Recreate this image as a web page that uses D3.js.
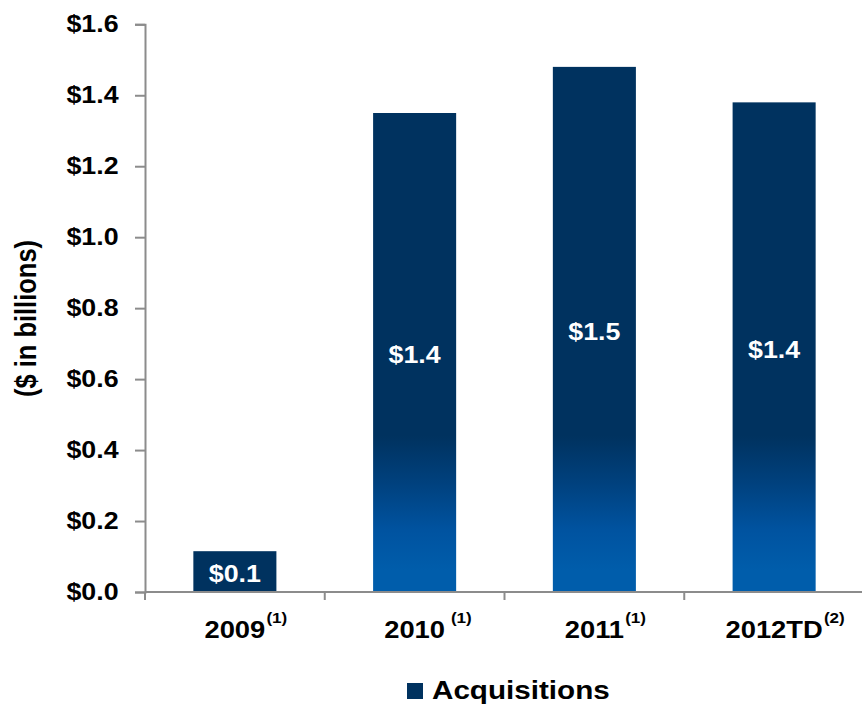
<!DOCTYPE html>
<html>
<head>
<meta charset="utf-8">
<script src="https://cdn.jsdelivr.net/npm/d3@7"></script>
<style>
  html, body { margin: 0; padding: 0; background: #fff; }
  svg { display: block; font-family: "Liberation Sans", Arial, sans-serif; font-weight: bold; }
</style>
</head>
<body>
<svg id="chart" width="862" height="707"></svg>
<script>
// Acquisition volume by year ($ in billions)
const years = ["2009", "2010", "2011", "2012TD"];
const footnotes = ["(1)", " (1)", "(1)", "(2)"];
const acquisitions = [0.115, 1.35, 1.48, 1.38];
const yTicks = [0, 0.2, 0.4, 0.6, 0.8, 1.0, 1.2, 1.4, 1.6];
const seriesName = "Acquisitions";
const axisTitle = "($ in billions)";

const W = 862, H = 707;
const margin = { left: 145, top: 24.3, right: -2, bottom: H - 592 };
const stretch = 1.14;          // horizontal widening of the lettering
const navy = "#00325f", blue = "#005dab", axisGrey = "#8c8c8c";

const svg = d3.select("#chart");

const x = d3.scaleBand()
  .domain(years)
  .range([margin.left, W - margin.right])
  .paddingInner(0.538)
  .paddingOuter(0.269);

const y = d3.scaleLinear()
  .domain([0, 1.6])
  .range([592, margin.top]);

// vertical gradient shared by the tall bars (dark at top, bright blue at the foot)
const defs = svg.append("defs");
const grad = defs.append("linearGradient")
  .attr("id", "barFill")
  .attr("gradientUnits", "userSpaceOnUse")
  .attr("x1", 0).attr("x2", 0)
  .attr("y1", y(0.44)).attr("y2", y(0.06));
grad.append("stop").attr("offset", 0).attr("stop-color", navy);
grad.append("stop").attr("offset", 0.35).attr("stop-color", "#00417e");
grad.append("stop").attr("offset", 0.7).attr("stop-color", "#0053a0");
grad.append("stop").attr("offset", 1).attr("stop-color", blue);

const data = years.map((yr, i) => ({ year: yr, value: acquisitions[i], note: footnotes[i] }));

// bars
svg.append("g").selectAll("rect")
  .data(data)
  .join("rect")
  .attr("x", d => x(d.year))
  .attr("width", x.bandwidth())
  .attr("y", d => y(d.value))
  .attr("height", d => y(0) - y(d.value))
  .attr("fill", d => d.value < 0.5 ? navy : "url(#barFill)");

// y axis
const yAxis = svg.append("g")
  .attr("transform", `translate(${margin.left},0)`)
  .call(d3.axisLeft(y)
    .tickValues(yTicks)
    .tickSize(10)
    .tickPadding(13.2)
    .tickFormat(d3.format("$.1f")));
yAxis.select(".domain").attr("stroke", axisGrey).attr("stroke-width", 2);
yAxis.selectAll(".tick line").attr("stroke", axisGrey).attr("stroke-width", 2);
yAxis.selectAll(".tick text")
  .attr("fill", "#000")
  .style("font-size", "23.5px")
  .style("font-family", "'Liberation Sans', Arial, sans-serif")
  .style("font-weight", "bold")
  .attr("transform", `scale(${stretch},1)`);

// x axis baseline with boundary ticks between categories
const xAxis = svg.append("g")
  .attr("transform", `translate(0,${y(0)})`);
xAxis.append("line")
  .attr("x1", margin.left).attr("x2", W)
  .attr("stroke", axisGrey).attr("stroke-width", 2);
const bounds = d3.range(years.length + 1).map(i => x.range()[0] + i * x.step());
xAxis.selectAll(".bound")
  .data(bounds)
  .join("line")
  .attr("class", "bound")
  .attr("x1", d => d).attr("x2", d => d)
  .attr("y1", 0).attr("y2", 8)
  .attr("stroke", axisGrey).attr("stroke-width", 2);

// category labels with footnote markers
const labels = svg.append("g").selectAll("g")
  .data(data)
  .join("g")
  .attr("transform", d => `translate(${x(d.year) + x.bandwidth() / 2},${y(0) + 45.5}) scale(${stretch},1)`);
labels.append("text")
  .attr("class", "yr")
  .attr("text-anchor", "middle")
  .style("font-size", "24px")
  .text(d => d.year);
labels.each(function(d) {
  const g = d3.select(this);
  const w = g.select(".yr").node().getComputedTextLength();
  g.append("text")
    .attr("x", w / 2 + 1)
    .attr("y", -15)
    .style("font-size", "15px")
    .style("white-space", "pre")
    .text(d.note);
});

// value labels inside the bars
svg.append("g").selectAll("g")
  .data(data)
  .join("g")
  .attr("transform", d => `translate(${x(d.year) + x.bandwidth() / 2},${(y(d.value) + y(0)) / 2}) scale(${stretch},1)`)
  .append("text")
  .attr("text-anchor", "middle")
  .attr("dy", "0.45em")
  .attr("fill", "#fff")
  .style("font-size", "23.5px")
  .text(d => d3.format("$.1f")(d.value));

// axis title
svg.append("text")
  .attr("transform", `translate(36,318.5) scale(${stretch},1) rotate(-90)`)
  .attr("text-anchor", "middle")
  .style("font-size", "25.5px")
  .text(axisTitle);

// legend
const legend = svg.append("g").attr("transform", "translate(407,683)");
legend.append("rect").attr("width", 16).attr("height", 16).attr("fill", navy);
legend.append("text")
  .attr("transform", `translate(25,15.5) scale(${stretch},1)`)
  .style("font-size", "26px")
  .text(seriesName);
</script>
</body>
</html>
